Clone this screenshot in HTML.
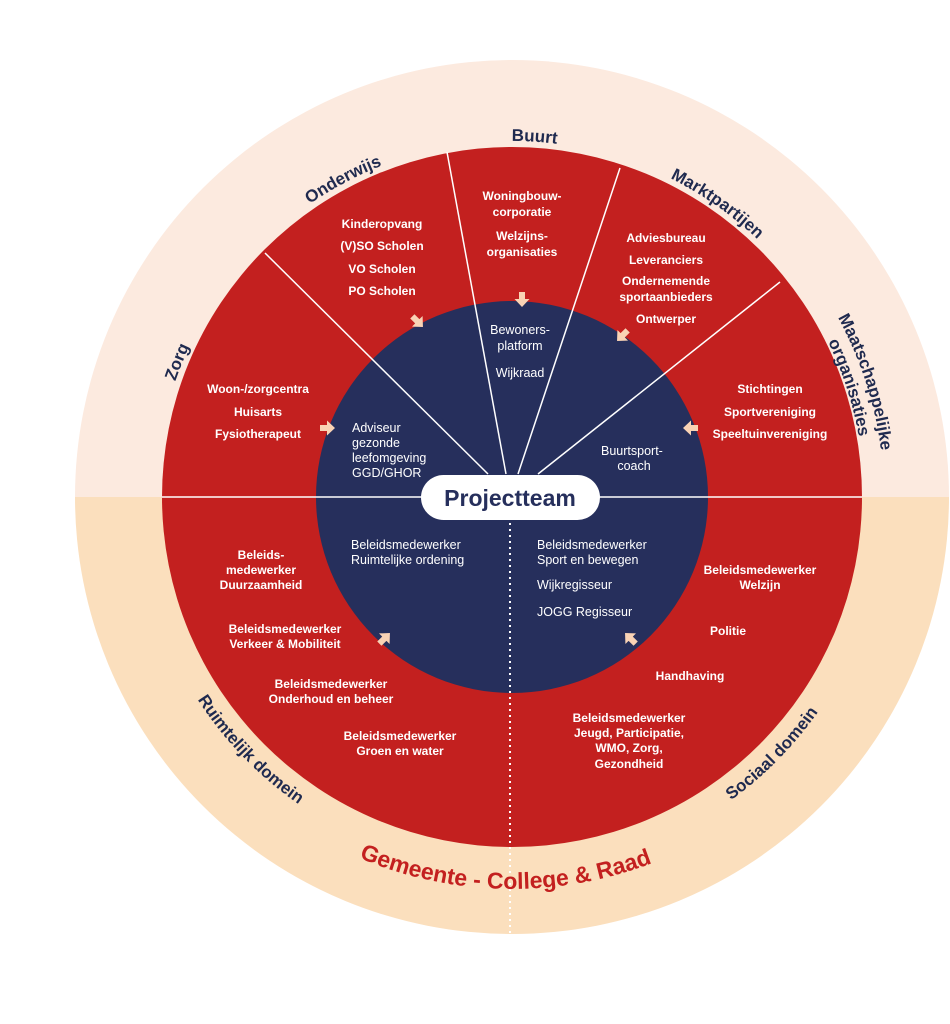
<!DOCTYPE html>
<html><head><meta charset="utf-8"><style>
html,body{margin:0;padding:0;background:#fff}
svg{display:block}
.w{font-family:"Liberation Sans",sans-serif;font-weight:bold;font-size:12px;fill:#fff;text-anchor:middle}
.n{font-family:"Liberation Sans",sans-serif;font-size:12.5px;fill:#fff}
.lab{font-family:"Liberation Sans",sans-serif;font-weight:bold;font-size:17px;fill:#1f2a4f}
</style></head><body>
<svg width="950" height="1024" viewBox="0 0 950 1024" xmlns="http://www.w3.org/2000/svg">
<defs>
<path id="pBuurt" d="M353.7,178.1 A356,356 0 0 1 709.0,200.5"/>
<path id="pOnd" d="M156.2,484.6 A356,356 0 0 1 700.6,195.1"/>
<path id="pMarkt" d="M361.6,174.4 A356,356 0 0 1 866.6,528.0"/>
<path id="pZorg" d="M231.5,716.2 A356,356 0 0 1 462.4,144.5"/>
<path id="pMa1" d="M589.3,133.1 A372,372 0 0 1 788.4,745.9"/>
<path id="pMa2" d="M585.2,152.7 A352,352 0 0 1 773.6,732.5"/>
<path id="pRuim" d="M152.5,393.9 A374,374 0 0 0 602.5,859.9"/>
<path id="pSoc" d="M417.7,858.9 A374,374 0 0 0 872.6,397.7"/>
<path id="pGem" d="M169.2,687.0 A392,392 0 0 0 848.0,698.9"/>
<polygon id="arr" points="-3,-8 3,-8 3,-1 7.5,-1 0,7 -7.5,-1 -3,-1" fill="#f9d3b5"/>
</defs>
<path d="M75,497 A437,437 0 0 1 949,497 Z" fill="#fceadf"/>
<path d="M75,497 A437,437 0 0 0 949,497 Z" fill="#fbdfbd"/>
<circle cx="512" cy="497" r="350" fill="#c3201f"/>
<circle cx="512" cy="497" r="196" fill="#262f5c"/>
<g stroke="#fff" stroke-width="1.5">
<line x1="162" y1="497" x2="862" y2="497"/>
<line x1="265" y1="253" x2="488" y2="474"/>
<line x1="447" y1="152" x2="506" y2="474"/>
<line x1="620" y1="168" x2="518" y2="474"/>
<line x1="780" y1="282" x2="538" y2="474"/>
</g>
<line x1="510" y1="523" x2="510" y2="935" stroke="#fff" stroke-width="2" stroke-dasharray="2,4"/>
<rect x="421" y="475" width="179" height="45" rx="22.5" fill="#fff"/>
<text x="510" y="506" text-anchor="middle" font-family="Liberation Sans,sans-serif" font-weight="bold" font-size="23" fill="#262f5c">Projectteam</text>

<use href="#arr" transform="translate(522,300)"/>
<use href="#arr" transform="translate(418,322) rotate(-45)"/>
<use href="#arr" transform="translate(622,336) rotate(45)"/>
<use href="#arr" transform="translate(328,428) rotate(-90)"/>
<use href="#arr" transform="translate(690,428) rotate(90)"/>
<use href="#arr" transform="translate(385,638) rotate(-135)"/>
<use href="#arr" transform="translate(630,638) rotate(135)"/>

<text class="lab"><textPath href="#pBuurt" startOffset="50%" text-anchor="middle">Buurt</textPath></text>
<text class="lab"><textPath href="#pOnd" startOffset="50%" text-anchor="middle">Onderwijs</textPath></text>
<text class="lab"><textPath href="#pMarkt" startOffset="50%" text-anchor="middle">Marktpartijen</textPath></text>
<text class="lab"><textPath href="#pZorg" startOffset="50%" text-anchor="middle">Zorg</textPath></text>
<text class="lab"><textPath href="#pMa1" startOffset="50%" text-anchor="middle">Maatschappelijke</textPath></text>
<text class="lab"><textPath href="#pMa2" startOffset="50%" text-anchor="middle">organisaties</textPath></text>
<text class="lab"><textPath href="#pRuim" startOffset="50%" text-anchor="middle">Ruimtelijk domein</textPath></text>
<text class="lab"><textPath href="#pSoc" startOffset="50%" text-anchor="middle">Sociaal domein</textPath></text>
<text font-family="Liberation Sans,sans-serif" font-weight="bold" font-size="23" fill="#c3201f"><textPath href="#pGem" startOffset="50%" text-anchor="middle">Gemeente - College &amp; Raad</textPath></text>

<g class="w">
<text x="382" y="228">Kinderopvang</text>
<text x="382" y="250">(V)SO Scholen</text>
<text x="382" y="273">VO Scholen</text>
<text x="382" y="295">PO Scholen</text>
<text x="522" y="200">Woningbouw-</text>
<text x="522" y="216">corporatie</text>
<text x="522" y="240">Welzijns-</text>
<text x="522" y="256">organisaties</text>
<text x="666" y="242">Adviesbureau</text>
<text x="666" y="264">Leveranciers</text>
<text x="666" y="285">Ondernemende</text>
<text x="666" y="301">sportaanbieders</text>
<text x="666" y="323">Ontwerper</text>
<text x="258" y="393">Woon-/zorgcentra</text>
<text x="258" y="416">Huisarts</text>
<text x="258" y="438">Fysiotherapeut</text>
<text x="770" y="393">Stichtingen</text>
<text x="770" y="416">Sportvereniging</text>
<text x="770" y="438">Speeltuinvereniging</text>
<text x="261" y="559">Beleids-</text>
<text x="261" y="574">medewerker</text>
<text x="261" y="589">Duurzaamheid</text>
<text x="285" y="633">Beleidsmedewerker</text>
<text x="285" y="648">Verkeer &amp; Mobiliteit</text>
<text x="331" y="688">Beleidsmedewerker</text>
<text x="331" y="703">Onderhoud en beheer</text>
<text x="400" y="740">Beleidsmedewerker</text>
<text x="400" y="755">Groen en water</text>
<text x="760" y="574">Beleidsmedewerker</text>
<text x="760" y="589">Welzijn</text>
<text x="728" y="635">Politie</text>
<text x="690" y="680">Handhaving</text>
<text x="629" y="722">Beleidsmedewerker</text>
<text x="629" y="737">Jeugd, Participatie,</text>
<text x="629" y="752">WMO, Zorg,</text>
<text x="629" y="768">Gezondheid</text>
</g>
<g class="n">
<text x="520" y="334" text-anchor="middle">Bewoners-</text>
<text x="520" y="350" text-anchor="middle">platform</text>
<text x="520" y="377" text-anchor="middle">Wijkraad</text>
<text x="352" y="432">Adviseur</text>
<text x="352" y="447">gezonde</text>
<text x="352" y="462">leefomgeving</text>
<text x="352" y="477">GGD/GHOR</text>
<text x="601" y="455">Buurtsport-</text>
<text x="634" y="470" text-anchor="middle">coach</text>
<text x="351" y="549">Beleidsmedewerker</text>
<text x="351" y="564">Ruimtelijke ordening</text>
<text x="537" y="549">Beleidsmedewerker</text>
<text x="537" y="564">Sport en bewegen</text>
<text x="537" y="589">Wijkregisseur</text>
<text x="537" y="616">JOGG Regisseur</text>
</g>
</svg>
</body></html>
